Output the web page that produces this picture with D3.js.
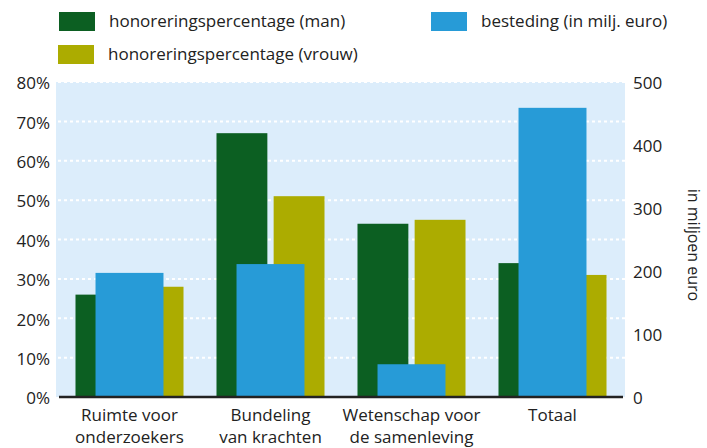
<!DOCTYPE html>
<html>
<head>
<meta charset="utf-8">
<script src="https://cdn.jsdelivr.net/npm/d3@7"></script>
<style>
  html, body { margin: 0; padding: 0; background: #fff; }
  svg { display: block; font-family: "Open Sans", "Noto Sans", sans-serif; }
</style>
</head>
<body>
<svg id="chart" width="707" height="448"></svg>
<script>
// Categories (two-line labels) and series
const categories = ["Ruimte voor onderzoekers", "Bundeling van krachten", "Wetenschap voor de samenleving", "Totaal"];
const categoryLines = [["Ruimte voor", "onderzoekers"], ["Bundeling", "van krachten"], ["Wetenschap voor", "de samenleving"], ["Totaal"]];
const honoreringMan = [26, 67, 44, 34];      // %
const honoreringVrouw = [28, 51, 45, 31];    // %
const besteding = [197, 211, 52, 459];       // miljoen euro

const pctTicks = [0, 10, 20, 30, 40, 50, 60, 70, 80];
const euroTicks = [0, 100, 200, 300, 400, 500];

const colors = { man: "#0c5f22", vrouw: "#acac00", besteding: "#279bd7" };

const svg = d3.select("#chart");
const plot = { left: 56, right: 625, top: 82, bottom: 397 };

const x0 = d3.scaleBand().domain(categories).range([59, 623]);
const groupW = x0.bandwidth() * 0.766;
const x1 = d3.scaleBand().domain(["man", "vrouw"]).range([0, groupW]).paddingInner(0.11);
const blueW = x0.bandwidth() * 0.482;

const yPct = d3.scaleLinear().domain([0, 80]).range([plot.bottom, plot.top]);
const yEur = d3.scaleLinear().domain([0, 500]).range([plot.bottom, plot.top]);

// Plot background
svg.append("rect")
  .attr("x", plot.left).attr("y", plot.top)
  .attr("width", plot.right - plot.left).attr("height", plot.bottom - plot.top)
  .attr("fill", "#dcedfb");

// Dotted gridlines
svg.append("g").selectAll("line")
  .data(pctTicks.slice(1))
  .join("line")
  .attr("x1", plot.left + 2).attr("x2", plot.right)
  .attr("y1", d => yPct(d)).attr("y2", d => yPct(d))
  .attr("stroke", "#fff").attr("stroke-width", 2)
  .attr("stroke-dasharray", "3,3");

// Percentage bars
const groups = svg.append("g").selectAll("g")
  .data(categories)
  .join("g")
  .attr("transform", d => `translate(${x0(d) + (x0.bandwidth() - groupW) / 2},0)`);

groups.append("rect")
  .attr("x", x1("man")).attr("width", x1.bandwidth())
  .attr("y", (d, i) => yPct(honoreringMan[i]))
  .attr("height", (d, i) => yPct(0) - yPct(honoreringMan[i]))
  .attr("fill", colors.man);

groups.append("rect")
  .attr("x", x1("vrouw")).attr("width", x1.bandwidth())
  .attr("y", (d, i) => yPct(honoreringVrouw[i]))
  .attr("height", (d, i) => yPct(0) - yPct(honoreringVrouw[i]))
  .attr("fill", colors.vrouw);

// Spending bars in front
svg.append("g").selectAll("rect")
  .data(categories)
  .join("rect")
  .attr("x", d => x0(d) + (x0.bandwidth() - blueW) / 2)
  .attr("width", blueW)
  .attr("y", (d, i) => yEur(besteding[i]))
  .attr("height", (d, i) => yEur(0) - yEur(besteding[i]))
  .attr("fill", colors.besteding);

// Baseline
svg.append("line")
  .attr("x1", 59).attr("x2", 623)
  .attr("y1", plot.bottom).attr("y2", plot.bottom)
  .attr("stroke", "#222").attr("stroke-width", 2.5);

// Left axis
const leftAxis = svg.append("g")
  .attr("transform", `translate(50,0)`)
  .call(d3.axisLeft(yPct).tickValues(pctTicks).tickFormat(d => d + "%").tickSize(0).tickPadding(0));
leftAxis.select(".domain").remove();
leftAxis.selectAll("text")
  .attr("font-size", 17).attr("fill", "#222").attr("dy", "0.4em")
  .attr("font-family", "Open Sans, sans-serif");

// Right axis
const rightAxis = svg.append("g")
  .attr("transform", `translate(633,0)`)
  .call(d3.axisRight(yEur).tickValues(euroTicks).tickFormat(d3.format("d")).tickSize(0).tickPadding(0));
rightAxis.select(".domain").remove();
rightAxis.selectAll("text")
  .attr("font-size", 17).attr("fill", "#222").attr("dy", "0.4em")
  .attr("font-family", "Open Sans, sans-serif");

svg.append("text")
  .attr("transform", "translate(688,245) rotate(90)")
  .attr("text-anchor", "middle")
  .attr("font-size", 16).attr("fill", "#222")
  .text("in miljoen euro");

// Category labels
const xl = svg.append("g").selectAll("text")
  .data(categories)
  .join("text")
  .attr("x", d => x0(d) + x0.bandwidth() / 2)
  .attr("y", 421)
  .attr("text-anchor", "middle")
  .attr("font-size", 17).attr("fill", "#222");
xl.selectAll("tspan")
  .data((d, i) => categoryLines[i])
  .join("tspan")
  .attr("x", function () { return this.parentNode.getAttribute("x"); })
  .attr("dy", (d, i) => i === 0 ? 0 : 22)
  .text(d => d);

// Legend
const legend = [
  { label: "honoreringspercentage (man)", color: colors.man, x: 59, y: 12 },
  { label: "besteding (in milj. euro)", color: colors.besteding, x: 431, y: 12 },
  { label: "honoreringspercentage (vrouw)", color: colors.vrouw, x: 58, y: 45 }
];
const lg = svg.append("g").selectAll("g").data(legend).join("g")
  .attr("transform", d => `translate(${d.x},${d.y})`);
lg.append("rect").attr("width", 36).attr("height", 19).attr("fill", d => d.color);
lg.append("text")
  .attr("x", 50).attr("y", 15)
  .attr("font-size", 17).attr("fill", "#222")
  .text(d => d.label);
</script>
</body>
</html>
